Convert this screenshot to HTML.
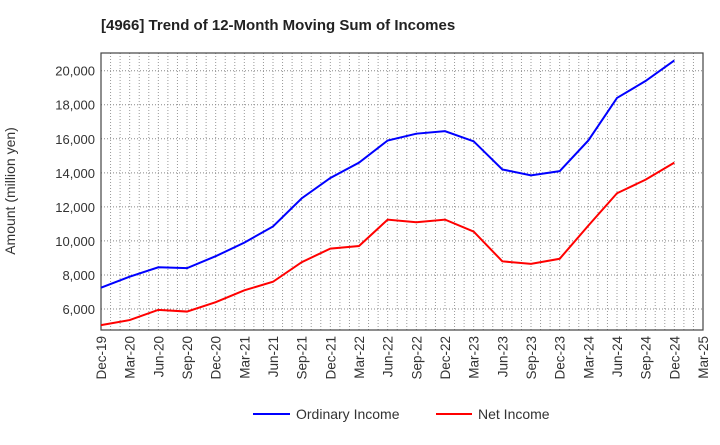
<!DOCTYPE html>
<html><head><meta charset="utf-8"><style>
body{margin:0;background:#fff;font-family:"Liberation Sans",sans-serif;}
svg text{font-family:"Liberation Sans",sans-serif;}
</style></head><body>
<svg width="720" height="440">
<text x="101" y="30" font-size="15" font-weight="bold" fill="#222">[4966]  Trend of 12-Month Moving Sum of Incomes</text>
<g id="grid"></g><g id="axes"></g><g id="series"></g>
<text transform="translate(15,191) rotate(-90)" text-anchor="middle" font-size="14" fill="#333">Amount (million yen)</text>
<g>
<line x1="253" y1="414" x2="290" y2="414" stroke="#0000ff" stroke-width="2"/>
<text x="296" y="419" font-size="14" fill="#333">Ordinary Income</text>
<line x1="436" y1="414" x2="472" y2="414" stroke="#ff0000" stroke-width="2"/>
<text x="478" y="419" font-size="14" fill="#333">Net Income</text>
</g>
</svg>
<script>
const categories=["Dec-19","Mar-20","Jun-20","Sep-20","Dec-20","Mar-21","Jun-21","Sep-21","Dec-21","Mar-22","Jun-22","Sep-22","Dec-22","Mar-23","Jun-23","Sep-23","Dec-23","Mar-24","Jun-24","Sep-24","Dec-24","Mar-25"];
const ordinaryIncome=[7250,7900,8450,8400,9100,9900,10850,12500,13700,14600,15900,16300,16450,15850,14200,13850,14100,15900,18400,19400,20600];
const netIncome=[5050,5350,5950,5850,6400,7100,7600,8750,9550,9700,11250,11100,11250,10550,8800,8650,8950,10900,12800,13600,14600];
const yTicks=[6000,8000,10000,12000,14000,16000,18000,20000];
const L=101,R=703,T=53,B=330;
const NS="http://www.w3.org/2000/svg";
const x=i=>L+i*(R-L)/(categories.length-1);
const y=v=>309-(v-6000)*(238.3/14000);
function mk(p,tag,a){const e=document.createElementNS(NS,tag);for(const k in a)e.setAttribute(k,a[k]);p.appendChild(e);return e;}
const grid=document.getElementById('grid'),axes=document.getElementById('axes'),ser=document.getElementById('series');
for(let m=0;m<=(categories.length-1)*3;m++){const xx=L+m*(R-L)/((categories.length-1)*3);
const g=mk(grid,'line',{x1:xx,x2:xx,y1:T,y2:B,stroke:'#999','stroke-width':1,'stroke-dasharray':'1,2'});

}
yTicks.forEach(v=>{const g=mk(grid,'line',{x1:L,x2:R,y1:y(v),y2:y(v),stroke:'#888','stroke-width':1,'stroke-dasharray':'1,2'});


const t=mk(axes,'text',{x:L-6,y:y(v)+5,'text-anchor':'end','font-size':13,fill:'#333'});t.textContent=v.toLocaleString('en-US');

});
categories.forEach((c,i)=>{const t=mk(axes,'text',{transform:`translate(${x(i)+5},${B+6}) rotate(-90)`,'text-anchor':'end','font-size':13.5,fill:'#333'});t.textContent=c;

});
const fr=mk(axes,'rect',{x:L,y:T,width:R-L,height:B-T,fill:'none',stroke:'#444','stroke-width':1.2});


function line(d,col,name){const p=mk(ser,'polyline',{points:d.map((v,i)=>x(i)+','+y(v)).join(' '),fill:'none',stroke:col,'stroke-width':2});

}
line(ordinaryIncome,'#0000ff','ordinary-income-line');
line(netIncome,'#ff0000','net-income-line');
</script>
</body></html>
